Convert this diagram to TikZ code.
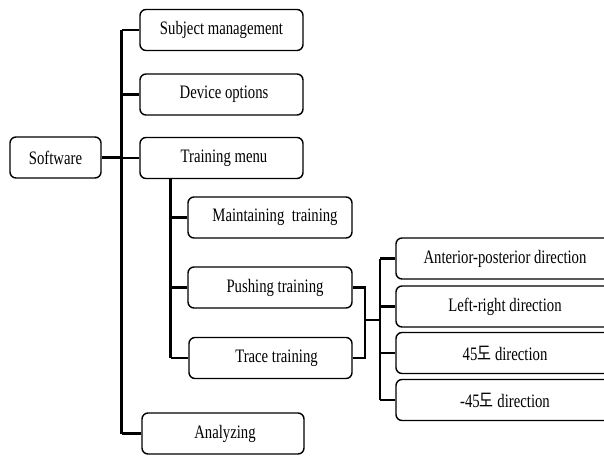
\documentclass[tikz,border=0pt]{standalone}
\usepackage{fontspec}
\setmainfont{Liberation Serif}[FakeStretch=0.775]
\newfontfamily\kr{Noto Sans CJK KR}[FakeStretch=0.8]
\begin{document}
\begin{tikzpicture}[x=1pt,y=-1pt,
  box/.style={draw, line width=1.4pt, rounded corners=6pt, minimum height=41pt,
    inner sep=0pt, font=\fontsize{19}{22}\selectfont},
  conn/.style={line width=2.6pt}]
\useasboundingbox (0,0) rectangle (604,455);
\clip (0,0) rectangle (604,455);
\fill[white] (0,0) rectangle (604,455);
% nodes
\node[box, minimum width=91pt]  (sw)  at (55.5,157.5) {Software};
\node[box, minimum width=163pt] (sub) at (221.5,30)   {Subject management};
\node[box, minimum width=163pt] (dev) at (221.5,94.5) {\hspace*{5pt}Device options};
\node[box, minimum width=163pt] (tm)  at (221.5,158)  {\hspace*{5pt}Training menu};
\node[box, minimum width=164pt] (mt)  at (270,217.5)  {\hspace*{10pt}Maintaining~ training};
\node[box, minimum width=164pt] (pt)  at (270,287.5)  {\hspace*{10pt}Pushing training};
\node[box, minimum width=163pt] (tt)  at (270.5,358)  {\hspace*{12pt}Trace training};
\node[box, minimum width=162pt] (an)  at (223,433.5)  {\hspace*{4pt}Analyzing};
\node[box, minimum width=218pt] (ap)  at (505,258.5)  {Anterior-posterior direction};
\node[box, minimum width=218pt] (lr)  at (505,306.5)  {Left-right direction};
\node[box, minimum width=218pt] (d45) at (505,353)    {45{\kr 도} direction};
\node[box, minimum width=218pt] (dm45) at (505,400)   {-45{\kr 도} direction};
% trunk coordinates
\coordinate (t1) at (121.5,0);
\coordinate (t2) at (170.5,0);
\coordinate (t3) at (365,0);
\coordinate (t4) at (380,0);
% main trunk
\draw[conn] (sw.east) -- (sw.east -| t1);
\draw[conn] (sub.west -| t1) -- (an.west -| t1);
\foreach \n in {sub,dev,tm,an} \draw[conn] (\n.west -| t1) -- (\n.west);
% training sub trunk
\draw[conn] (tm.south -| t2) -- (tt.west -| t2);
\foreach \n in {mt,pt,tt} \draw[conn] (\n.west -| t2) -- (\n.west);
% right side
\draw[conn] (pt.east) -- (pt.east -| t3) -- (tt.east -| t3) -- (tt.east);
\coordinate (mid) at (365,320);
\draw[conn] (mid) -- (mid -| t4);
\draw[conn] (ap.west -| t4) -- (dm45.west -| t4);
\foreach \n in {ap,lr,d45,dm45} \draw[conn] (\n.west -| t4) -- (\n.west);
\end{tikzpicture}
\end{document}
